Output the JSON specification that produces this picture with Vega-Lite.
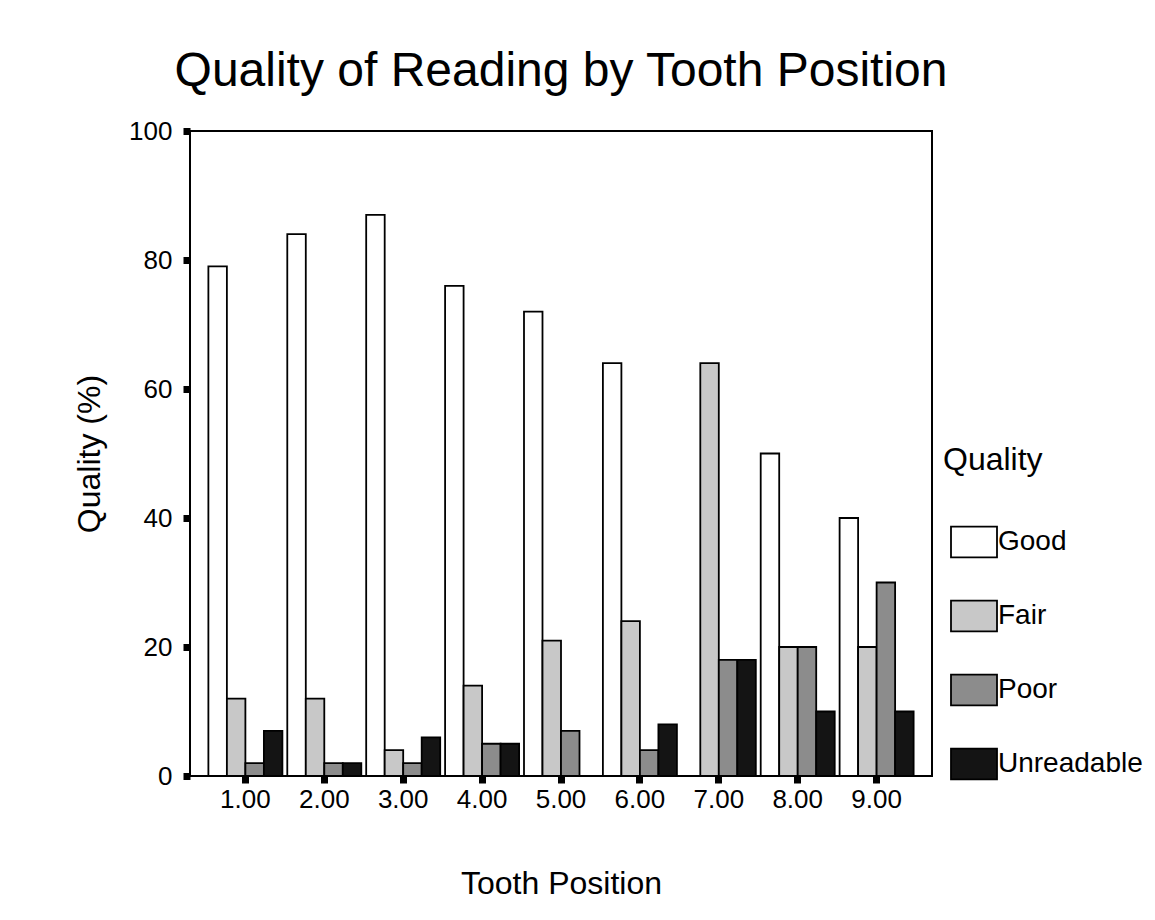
{
  "$schema": "https://vega.github.io/schema/vega-lite/v6.json",
  "autosize": "none",
  "width": 742,
  "height": 645,
  "padding": {"left": 190, "top": 131, "right": 223, "bottom": 144},
  "background": "white",
  "title": {
    "text": "Quality of Reading by Tooth Position",
    "font": "Liberation Sans",
    "fontSize": 48,
    "fontWeight": "normal",
    "color": "black",
    "anchor": "middle",
    "offset": 22
  },
  "config": {
    "view": {"stroke": "black", "strokeWidth": 2},
    "font": "Liberation Sans"
  },
  "data": {
    "values": [
      {"position": "1.00", "quality": "Good", "percent": 79},
      {"position": "1.00", "quality": "Fair", "percent": 12},
      {"position": "1.00", "quality": "Poor", "percent": 2},
      {"position": "1.00", "quality": "Unreadable", "percent": 7},
      {"position": "2.00", "quality": "Good", "percent": 84},
      {"position": "2.00", "quality": "Fair", "percent": 12},
      {"position": "2.00", "quality": "Poor", "percent": 2},
      {"position": "2.00", "quality": "Unreadable", "percent": 2},
      {"position": "3.00", "quality": "Good", "percent": 87},
      {"position": "3.00", "quality": "Fair", "percent": 4},
      {"position": "3.00", "quality": "Poor", "percent": 2},
      {"position": "3.00", "quality": "Unreadable", "percent": 6},
      {"position": "4.00", "quality": "Good", "percent": 76},
      {"position": "4.00", "quality": "Fair", "percent": 14},
      {"position": "4.00", "quality": "Poor", "percent": 5},
      {"position": "4.00", "quality": "Unreadable", "percent": 5},
      {"position": "5.00", "quality": "Good", "percent": 72},
      {"position": "5.00", "quality": "Fair", "percent": 21},
      {"position": "5.00", "quality": "Poor", "percent": 7},
      {"position": "5.00", "quality": "Unreadable", "percent": 0},
      {"position": "6.00", "quality": "Good", "percent": 64},
      {"position": "6.00", "quality": "Fair", "percent": 24},
      {"position": "6.00", "quality": "Poor", "percent": 4},
      {"position": "6.00", "quality": "Unreadable", "percent": 8},
      {"position": "7.00", "quality": "Good", "percent": 0},
      {"position": "7.00", "quality": "Fair", "percent": 64},
      {"position": "7.00", "quality": "Poor", "percent": 18},
      {"position": "7.00", "quality": "Unreadable", "percent": 18},
      {"position": "8.00", "quality": "Good", "percent": 50},
      {"position": "8.00", "quality": "Fair", "percent": 20},
      {"position": "8.00", "quality": "Poor", "percent": 20},
      {"position": "8.00", "quality": "Unreadable", "percent": 10},
      {"position": "9.00", "quality": "Good", "percent": 40},
      {"position": "9.00", "quality": "Fair", "percent": 20},
      {"position": "9.00", "quality": "Poor", "percent": 30},
      {"position": "9.00", "quality": "Unreadable", "percent": 10}
    ]
  },
  "mark": {"type": "bar", "stroke": "black", "strokeWidth": 1.8},
  "encoding": {
    "x": {
      "field": "position",
      "type": "nominal",
      "sort": null,
      "title": "Tooth Position",
      "scale": {"paddingInner": 0.062, "paddingOuter": 0.233},
      "axis": {
        "labelAngle": 0,
        "domain": false,
        "bandPosition": 0.5,
        "tickSize": 7,
        "tickWidth": 7,
        "tickColor": "black",
        "labelFont": "Liberation Sans",
        "labelFontSize": 26,
        "labelColor": "black",
        "labelPadding": 3,
        "titleFont": "Liberation Sans",
        "titleFontSize": 32,
        "titleFontWeight": "normal",
        "titleColor": "black",
        "titlePadding": 56
      }
    },
    "xOffset": {
      "field": "quality",
      "type": "nominal",
      "sort": ["Good", "Fair", "Poor", "Unreadable"],
      "scale": {"paddingInner": 0, "paddingOuter": 0}
    },
    "y": {
      "field": "percent",
      "type": "quantitative",
      "title": "Quality (%)",
      "scale": {"domain": [0, 100], "nice": false},
      "axis": {
        "values": [0, 20, 40, 60, 80, 100],
        "grid": false,
        "domain": false,
        "tickSize": 7,
        "tickWidth": 7,
        "tickColor": "black",
        "labelFont": "Liberation Sans",
        "labelFontSize": 26,
        "labelColor": "black",
        "labelPadding": 11,
        "titleFont": "Liberation Sans",
        "titleFontSize": 32,
        "titleFontWeight": "normal",
        "titleColor": "black",
        "titlePadding": 22
      }
    },
    "fill": {
      "field": "quality",
      "type": "nominal",
      "title": "Quality",
      "scale": {
        "domain": ["Good", "Fair", "Poor", "Unreadable"],
        "range": ["#ffffff", "#c8c8c8", "#8c8c8c", "#141414"]
      },
      "legend": {
        "orient": "none",
        "legendX": 753,
        "legendY": 314,
        "titleFont": "Liberation Sans",
        "titleFontSize": 32,
        "titleFontWeight": "normal",
        "titleColor": "black",
        "titlePadding": 41,
        "labelFont": "Liberation Sans",
        "labelFontSize": 28,
        "labelColor": "black",
        "labelOffset": 0,
        "symbolType": "M-1,-0.67H1V0.67H-1Z",
        "symbolSize": 2116,
        "symbolStrokeColor": "black",
        "symbolStrokeWidth": 1.8,
        "symbolOffset": 7,
        "rowPadding": 30
      }
    }
  }
}
